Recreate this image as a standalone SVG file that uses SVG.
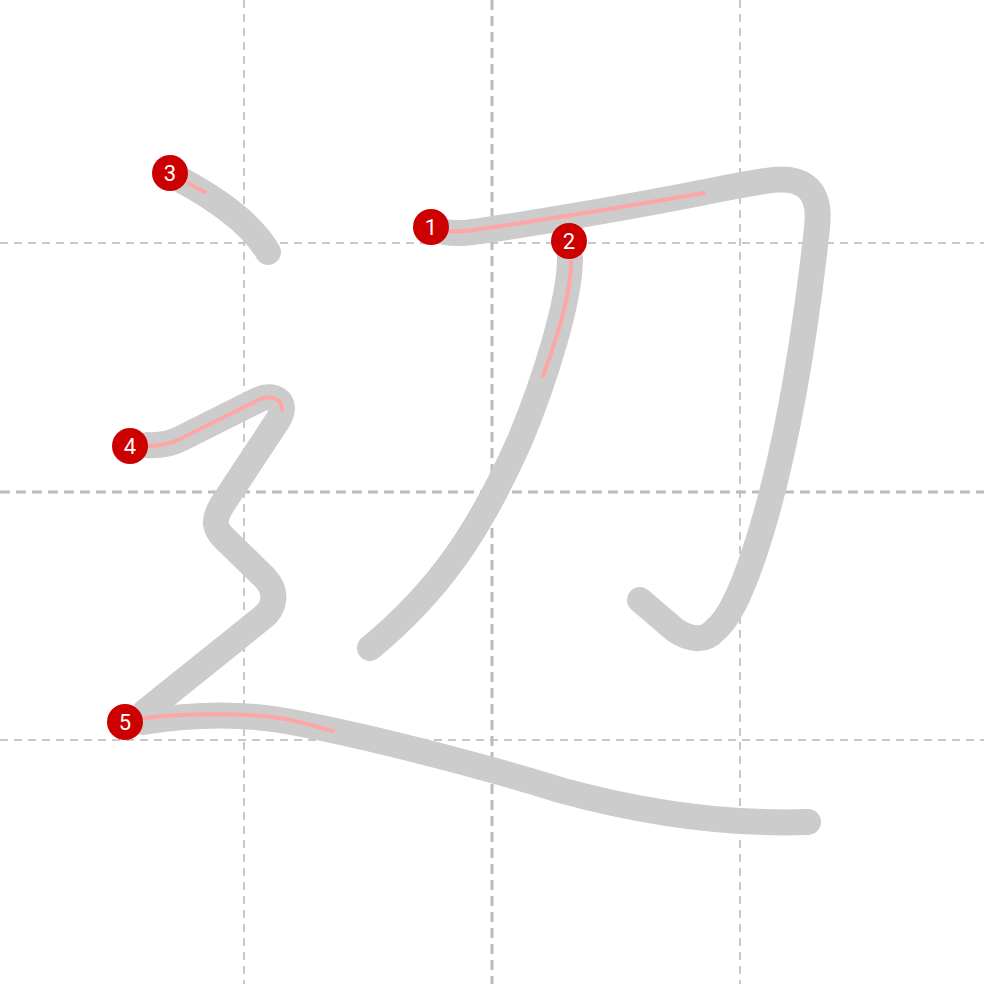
<svg xmlns="http://www.w3.org/2000/svg" width="984" height="984" viewBox="0 0 984 984">
<style>
.g1{stroke:#c8c8c8;stroke-width:2;stroke-dasharray:8 6;fill:none}
.g2{stroke:#bcbcbc;stroke-width:3;stroke-dasharray:10 6;fill:none}
.st{stroke:#cccccc;stroke-width:26;fill:none;stroke-linecap:round;stroke-linejoin:round}
.rd{stroke:#ffa5a5;stroke-width:4;fill:none;stroke-linecap:round;stroke-linejoin:round}
.lb circle{fill:#cc0000}
.lb text{fill:#ffffff;font-family:Roboto,"Liberation Sans",sans-serif;font-size:22px;text-anchor:middle}
</style>
<rect width="984" height="984" fill="#ffffff"/>
<g id="grid">
<line class="g1" x1="244" y1="0" x2="244" y2="984"/>
<line class="g1" x1="740" y1="0" x2="740" y2="984"/>
<line class="g1" x1="0" y1="243" x2="984" y2="243"/>
<line class="g1" x1="0" y1="740" x2="984" y2="740"/>
<line class="g2" x1="492" y1="0" x2="492" y2="984"/>
<line class="g2" x1="0" y1="492" x2="984" y2="492"/>
</g>
<g id="strokes">
<path id="s1" class="st" d="M445,232 C455,234 468,233 480,231 C530,224 640,205 700,193 C720,189 740,185 765,181 C800,175 822,186 817,228 C808,310 790,450 752,560 C740,595 728,620 715,630 C705,642 690,640 675,630 L640,600"/>
<path id="s2" class="st" d="M570,258 C570,300 545,380 520,440 C480,530 440,590 370,648"/>
<path id="s3" class="st" d="M183,181 C205,193 250,220 268,252"/>
<path id="s4" class="st" d="M147,445 C160,446 170,444 180,439 L258,400 C272,393 290,400 278,420 L222,505 C213,520 214,528 224,538 L265,578 C278,592 275,608 262,618 L145,712"/>
<path id="s5" class="st" d="M143,722 C180,716 230,712 280,720 C350,732 470,762 560,790 C640,812 720,825 808,822"/>
</g>
<g id="directions">
<path class="rd" d="M450,231 C455,232 468,231 480,229 C530,222 640,204 704,193"/>
<path class="rd" d="M571,262 C571,290 560,330 543,376"/>
<path class="rd" d="M188,183 L205,192"/>
<path class="rd" d="M148,446 C160,446 170,444 180,439 L258,400 C270,394 282,398 282,410"/>
<path class="rd" d="M145,718 C180,714 240,712 280,718 C300,721 320,728 333,731"/>
</g>
<g id="label1" class="lb"><circle cx="431" cy="227" r="18"/><text x="431" y="235">1</text></g>
<g id="label2" class="lb"><circle cx="569" cy="241" r="18"/><text x="569" y="249">2</text></g>
<g id="label3" class="lb"><circle cx="170" cy="173" r="18"/><text x="170" y="181">3</text></g>
<g id="label4" class="lb"><circle cx="130" cy="446" r="18"/><text x="130" y="454">4</text></g>
<g id="label5" class="lb"><circle cx="125" cy="722" r="18"/><text x="125" y="730">5</text></g>
</svg>
